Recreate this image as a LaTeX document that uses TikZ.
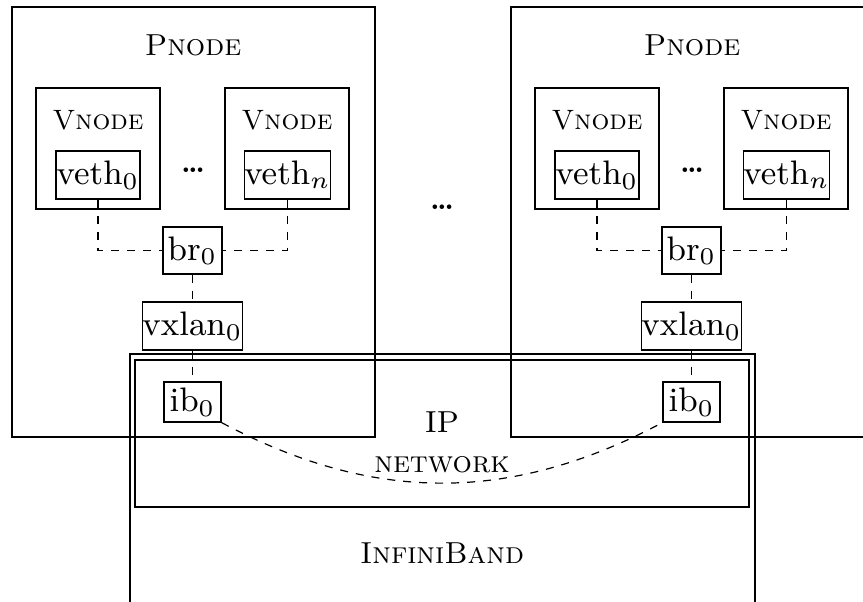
\documentclass[tikz,border=0pt]{standalone}
\usepackage{amsmath}
\usepackage{tikz}

\newcommand{\tightdots}{\raisebox{2.2pt}{\bfseries\fontsize{7}{8}\selectfont.\kern-0.75pt.\kern-0.75pt.}}

\begin{document}
\begin{tikzpicture}[x=0.25pt, y=-0.25pt, line width=0.3pt,
		iface/.style={draw, font=\fontsize{8.5}{10}\selectfont, inner sep=0pt, minimum height=12pt},
		title/.style={font=\fontsize{7.6}{10}\selectfont\scshape},
		vtitle/.style={font=\fontsize{7}{8}\selectfont\scshape},
		link/.style={dash pattern=on 2pt off 2pt}]
		\useasboundingbox (0,0) rectangle (863,601);
\draw (12,7) rectangle (375,437) ; % Pnode.0
\node[title] (pnodeA) at (193,45) {Pnode}; % Pnode.0
\draw (36,88) rectangle (160,209) ; % Vnode.0
\node[vtitle] (vnodeA) at (98,120) {Vnode}; % Vnode.0
\node[iface, minimum width=21pt] (vethA) at (98,175) {veth$_0$}; % Vnode.0
\node[inner sep=0pt] (dotsA) at (193,175) {\tightdots}; % Pnode.0
\draw (225,88) rectangle (349,209) ; % Vnode.1
\node[vtitle] (vnodeB) at (287,120) {Vnode}; % Vnode.1
\node[iface, minimum width=21.25pt] (vethnA) at (287.5,175) {veth$_n$}; % Vnode.1
\node[iface, minimum width=14.75pt, minimum height=11.75pt] (brA) at (192.5,250.5) {br$_0$}; % Pnode.0
\node[iface, minimum width=24.25pt] (vxlanA) at (192.5,326) {vxlan$_0$}; % Pnode.0
\node[iface, minimum width=14.25pt, minimum height=10pt] (ibA) at (192.5,402) {ib$_0$}; % Pnode.0
\draw[link] (vethA.south) |- (brA.west) ; % Pnode.0
\draw[link] (vethnA.south) |- (brA.east) ; % Pnode.0
\draw[link] (brA) -- (vxlanA) ; % Pnode.0
\draw[link] (vxlanA) -- (ibA) ; % Pnode.0

\node[inner sep=0pt] (dotsM) at (442,212) {\tightdots}; % between

\draw (511,7) rectangle (874,437) ; % Pnode.1
\node[title] (pnodeB) at (692,45) {Pnode}; % Pnode.1
\draw (535,88) rectangle (659,209) ; % Vnode.2
\node[vtitle] (vnodeC) at (597,120) {Vnode}; % Vnode.2
\node[iface, minimum width=21pt] (vethB) at (597,175) {veth$_0$}; % Vnode.2
\node[inner sep=0pt] (dotsB) at (692,175) {\tightdots}; % Pnode.1
\draw (724,88) rectangle (848,209) ; % Vnode.3
\node[vtitle] (vnodeD) at (786,120) {Vnode}; % Vnode.3
\node[iface, minimum width=21.25pt] (vethnB) at (786.5,175) {veth$_n$}; % Vnode.3
\node[iface, minimum width=14.75pt, minimum height=11.75pt] (brB) at (691.5,250.5) {br$_0$}; % Pnode.1
\node[iface, minimum width=24.25pt] (vxlanB) at (691.5,326) {vxlan$_0$}; % Pnode.1
\node[iface, minimum width=14.25pt, minimum height=10pt] (ibB) at (691.5,402) {ib$_0$}; % Pnode.1
\draw[link] (vethB.south) |- (brB.west) ; % Pnode.1
\draw[link] (vethnB.south) |- (brB.east) ; % Pnode.1
\draw[link] (brB) -- (vxlanB) ; % Pnode.1
\draw[link] (vxlanB) -- (ibB) ; % Pnode.1

\draw (130,354) rectangle (755,640) ; % InfiniBand
\node[title] (infiniband) at (442,553) {InfiniBand}; % InfiniBand
\draw (135,360) rectangle (749,507) ; % IP
\node[font=\fontsize{7.6}{10}\selectfont, align=center] (ipnet) at (442,442) {IP\\\textsc{network}}; % IP
\draw[link] (ibA.south east) to[bend right=28] (ibB.south west) ; % IP

		\end{tikzpicture}
\end{document}
